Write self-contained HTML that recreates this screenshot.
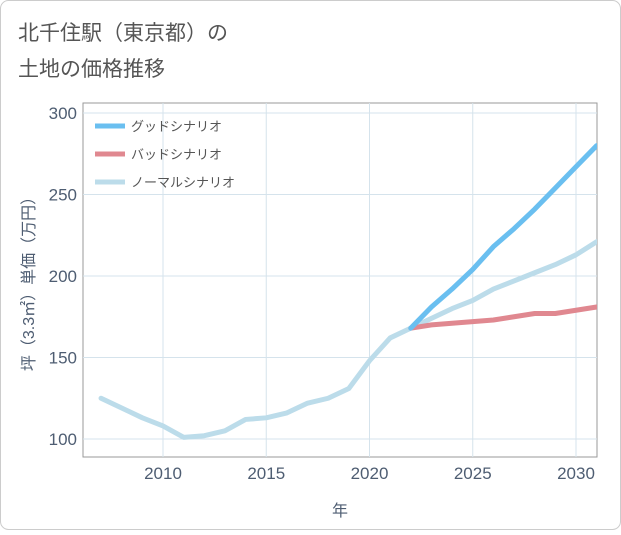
<!DOCTYPE html>
<html><head><meta charset="utf-8"><style>
body{margin:0;background:#fff;font-family:"Liberation Sans","Noto Sans CJK JP",sans-serif;}
#wrap{position:relative;width:621px;height:530px;}
</style></head><body>
<div id="wrap">
<svg id="c" width="621" height="530" xmlns="http://www.w3.org/2000/svg">
<rect x="0.5" y="0.5" width="620" height="529" rx="8" fill="#fff" stroke="#ccc"/>
<text x="18" y="40" font-size="21" fill="#555">北千住駅（東京都）の</text>
<text x="18" y="76" font-size="21" fill="#555">土地の価格推移</text>
<g id="plot"></g>
</svg>
</div>
<script>
const years=[2007,2008,2009,2010,2011,2012,2013,2014,2015,2016,2017,2018,2019,2020,2021,2022,2023,2024,2025,2026,2027,2028,2029,2030,2031];
const normal=[125,119,113,108,101,102,105,112,113,116,122,125,131,148,162,168,174,180,185,192,197,202,207,213,221];
const futureYears=[2022,2023,2024,2025,2026,2027,2028,2029,2030,2031];
const good=[168,181,192,204,218,229,241,254,267,280];
const bad=[168,170,171,172,173,175,177,177,179,181];
const xTicks=[2010,2015,2020,2025,2030];
const yTicks=[100,150,200,250,300];
const legendLabels=["グッドシナリオ","バッドシナリオ","ノーマルシナリオ"];
const colors=["#6abff0","#e08890","#bcdcea"];
const L=83,R=597,T=103,B=457;
const X=v=>163+(v-2010)*20.65;
const Y=v=>439-(v-100)*1.63;
const ns="http://www.w3.org/2000/svg";
const g=document.getElementById('plot');
function mk(t,a,p){const e=document.createElementNS(ns,t);for(const k in a)e.setAttribute(k,a[k]);(p||g).appendChild(e);return e;}
const bg=mk('rect',{x:L,y:T,width:R-L,height:B-T,fill:'#fff',stroke:'#999'});


xTicks.forEach(v=>{const l=mk('line',{x1:X(v),x2:X(v),y1:T,y2:B,stroke:'#d5e3ec'});


const t=mk('text',{x:X(v),y:B+22,'text-anchor':'middle','font-size':17,fill:'#4e5d72'});t.textContent=v;

});
yTicks.forEach(v=>{const l=mk('line',{x1:L,x2:R,y1:Y(v),y2:Y(v),stroke:'#d5e3ec'});


const t=mk('text',{x:L-6,y:Y(v)+6,'text-anchor':'end','font-size':17,fill:'#4e5d72'});t.textContent=v;

});
const xt=mk('text',{x:340,y:516,'text-anchor':'middle','font-size':16,fill:'#4e5d72'});xt.textContent='年';


const yt=mk('text',{x:0,y:0,'text-anchor':'middle','font-size':16,fill:'#4e5d72',transform:'translate(34,280) rotate(-90)'});yt.textContent='坪（3.3㎡）単価（万円）';


const cp=mk('clipPath',{id:'cl'});mk('rect',{x:L,y:T,width:R-L,height:B-T},cp);
function line(xs,ys,c,name){const p=mk('polyline',{points:xs.map((x,i)=>X(x)+','+Y(ys[i])).join(' '),fill:'none',stroke:c,'stroke-width':5,'stroke-linejoin':'round','stroke-linecap':'round','clip-path':'url(#cl)'});

}
line(years,normal,colors[2],'normal-scenario-line');
line(futureYears,bad,colors[1],'bad-scenario-line');
line(futureYears,good,colors[0],'good-scenario-line');
legendLabels.forEach((s,i)=>{const y=126+i*28;
const l=mk('line',{x1:95,x2:125,y1:y,y2:y,stroke:colors[i],'stroke-width':5});


const t=mk('text',{x:131,y:y+5,'font-size':13,fill:'#555'});t.textContent=s;

});
</script>
</body></html>
